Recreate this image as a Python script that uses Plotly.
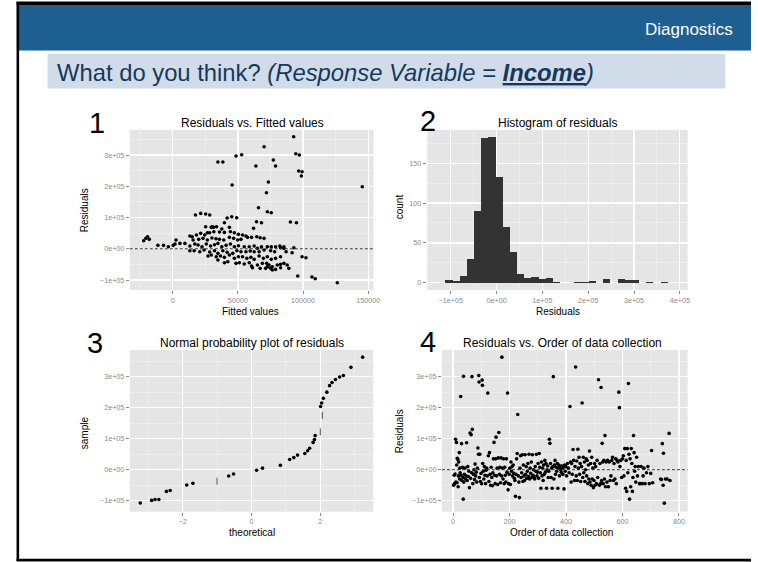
import plotly.graph_objects as go

W, H = 758, 562
FONT = "Liberation Sans, Arial, sans-serif"

# ---------------- data (residuals in thousands) ----------------
fit1 = [92.8, 70.1, 94.4, 97.1, 52.9, 48.6, 34.7, 38.5, 77.2, 78.9, 63.8, 96.6, 99.2, 98.7, 73.4, 45.6, 145.4, 71.9,
        72.6, 75.6, 65.8, 17.5, 21.5, 25.3, 28.4, 45.3, 49.1, 41.8, 39.7, 64.3, 68.1, 90.3, 94.9, 62.0, 25.3, 30.4, 33.7,
        87.0, 91.6, 99.2, 102.2, 95.9, 106.8, 109.3, 126.2, 89.1, 82.7, 85.3,
        -22.2, -20.5, -19.2, -17.9, -11.3, -7.0, -3.3, 0.5, 1.8, 2.6, 5.6, 9.4,
        13.2, 15.0, 18.2, 21.5, 24.6, 26.6, 28.4, 31.6, 35.9, 39.7, 44.3, 47.3, 50.4, 53.6, 56.2,
        29.6, 31.4, 43.5, 37.7,
        15.7, 20.0, 23.3, 26.6, 30.1, 33.2, 35.9, 39.2, 43.5, 46.8, 49.9, 52.4, 57.4, 60.5, 64.5, 67.1, 70.1,
        13.2, 17.0, 19.5, 22.5, 25.8, 29.1, 32.1, 34.7, 37.7, 41.0, 44.3, 47.3, 50.4, 54.9, 58.7, 62.5, 65.0, 68.1,
        72.6, 75.6, 78.9, 82.2, 85.3, 92.9,
        13.2, 16.5, 20.8, 24.1, 28.4, 32.1, 34.7, 38.5, 41.8, 46.1, 49.3, 52.4, 56.2, 59.5, 62.5, 66.3, 70.1, 75.1, 78.2,
        27.1, 29.6, 33.4, 36.7, 39.7, 43.5, 47.3, 50.4, 53.6, 56.9, 60.0, 62.5, 66.3, 69.6, 72.6, 75.6, 78.9, 82.7,
        34.7, 39.7, 42.3, 48.6, 51.1, 54.9, 58.7, 60.5, 65.0, 68.8, 72.1, 73.9, 76.4, 80.2, 82.7, 85.3, 87.8,
        61.2, 67.1, 71.3, 75.1, 78.9, 82.7, 72.6, 76.4]
res1 = [358.5, 326.5, 304.1, 299.8, 300.9, 296.6, 277.4, 277.4, 283.8, 264.6, 264.6, 248.6, 246.5, 232.6, 213.4, 203.8,
        198.5, 179.3, 118.5, 115.3, 131.3, 107.8, 113.2, 111.0, 107.8, 102.5, 99.3, 98.2, 83.3, 86.5, 83.3, 85.4, 83.3,
        65.2, 70.5, 70.5, 70.5,
        -9.5, -12.7, -25.5, -28.7, -87.4, -90.6, -95.9, -108.7, -62.8, 3.3, 6.5,
        25.7, 33.2, 38.5, 30.0, 10.8, 10.8, 6.5, 10.8, 15.0, 27.8, 17.1, 17.1,
        40.6, 38.5, 43.8, 49.2, 43.8, 51.3, 51.3, 54.5, 53.4, 52.3, 54.5, 51.3, 46.0, 43.8, 40.6,
        68.4, 68.4, 68.4, 63.0,
        27.8, 30.0, 33.2, 27.8, 34.2, 32.1, 30.0, 27.8, 36.4, 33.2, 27.8, 30.0, 36.4, 36.4, 38.5, 35.3, 33.2,
        8.6, 15.0, 11.8, 6.5, 15.0, 8.6, 12.9, 17.1, 6.5, 10.8, 15.0, 6.5, 9.7, 6.5, 6.5, 8.6, 1.2, 6.5,
        6.5, 6.5, 6.5, 8.6, 1.2, 3.3,
        -6.3, -6.3, -9.5, -4.2, -10.6, -6.3, -14.8, -6.3, -11.6, -14.8, -6.3, -9.5, -9.5, -7.4, -9.5, -9.5, -4.2, -6.3, -9.5,
        -23.4, -20.2, -25.5, -23.4, -27.6, -20.2, -30.8, -25.5, -25.5, -30.8, -27.6, -34.0, -23.4, -30.8, -25.5, -34.0, -30.8, -25.5,
        -36.2, -44.7, -41.5, -46.8, -44.7, -49.0, -44.7, -55.4, -52.2, -46.8, -46.8, -52.2, -57.5, -52.2, -50.0, -46.8, -52.2,
        -60.7, -62.8, -62.8, -62.8, -66.1, -60.7, -57.5, -68.2]

bin_centers = [-104.1, -88.4, -72.7, -57.1, -41.4, -25.8, -10.1, 5.6, 21.2, 36.9, 52.5, 68.2, 83.9, 99.5, 115.2,
               130.8, 146.5, 162.2, 177.8, 193.5, 209.1, 224.8, 240.4, 256.1, 271.8, 287.4, 303.1, 318.7, 334.4,
               350.1, 365.7]
bin_counts = [3, 2, 8, 30, 90, 182, 183, 133, 70, 39, 11, 6, 7, 5, 6, 1, 0, 0, 1, 1, 2, 0, 4, 0, 4, 3, 3, 0, 1, 0, 1]
bin_width = 15.66

theo3 = [-3.23, -2.90, -2.80, -2.69, -2.47, -2.36, -1.88, -1.70, -0.66, -0.52, 0.15, 0.32, 0.84, 1.11, 1.23, 1.34,
         1.55, 1.63, 1.69, 1.79, 1.83, 1.85, 2.01, 2.04, 2.09, 2.19, 2.27, 2.34, 2.44, 2.56, 2.67, 2.89, 3.23]
samp3 = [-107.6, -99, -96, -96, -70, -67, -49.6, -44, -20.5, -14, -2, 5, 14, 33, 39, 47, 52, 61, 69, 88, 97, 110,
         204, 215, 230, 250, 271, 281, 291, 299, 304, 330, 363]
theo3_overlap = [-1.0, 2.0, 2.06]
samp3_overlap = [-37, 122, 175]

order4 = [2, 4, 5, 7, 9, 10, 12, 13, 14, 15, 17, 18, 19, 20, 22, 23, 24, 25, 27, 28, 30, 31, 33, 35, 36, 37, 38, 40, 42,
          44, 46, 48, 50, 52, 54, 56, 58, 60, 62, 64, 66, 67, 68, 70, 72, 74, 76, 78, 80, 82, 84, 86, 88, 90, 91, 92, 93,
          95, 97, 99, 101, 103, 104, 105, 107, 109, 111, 113, 115, 117, 119, 121, 123, 125, 127, 129, 131, 133, 135, 137,
          139, 141, 143, 145, 147, 149, 151, 152, 154, 156, 158, 160, 162, 164, 166, 168, 170, 172, 173, 175, 177, 179,
          181, 183, 185, 187, 189, 191, 193, 195, 197, 199, 201, 203, 205, 207, 209, 211, 213, 215, 217, 219, 221, 223,
          225, 227, 229, 231, 233, 235, 237, 239, 241, 243, 245, 247, 249, 251, 253, 255, 257, 259, 261, 263, 265, 267,
          269, 271, 273, 275, 277, 279, 281, 283, 285, 287, 289, 291, 293, 295, 297, 299, 301, 303, 305, 307, 309, 311,
          313, 315, 317, 319, 321, 323, 325, 327, 329, 331, 333, 335, 337, 339, 341, 343, 345, 347, 349, 351, 353, 355,
          357, 359, 361, 363, 365, 367, 369, 371, 373, 375, 377, 379, 381, 383, 385, 387, 389, 391, 393, 395, 397, 399,
          402, 405, 408, 411, 414, 416, 418, 420, 422, 425, 427, 430, 432, 434, 436, 438, 440, 442, 444, 446, 448, 450,
          452, 455, 457, 459, 461, 463, 465, 467, 469, 471, 473, 475, 477, 479, 481, 483, 485, 487, 489, 491, 493, 495,
          497, 499, 501, 503, 505, 508, 510, 512, 515, 518, 520, 522, 524, 526, 528, 530, 532, 534, 536, 538, 540, 542,
          545, 547, 550, 553, 556, 559, 562, 565, 568, 570, 573, 576, 578, 581, 584, 587, 589, 591, 594, 597, 600, 603,
          605, 608, 611, 613, 615, 617, 619, 621, 623, 625, 627, 629, 631, 633, 635, 637, 639, 641, 643, 645, 647, 650,
          653, 656, 660, 663, 666, 670, 673, 676, 680, 685, 690, 695, 700, 703, 707, 735, 738, 741, 744, 745, 748, 752,
          758, 765, 768]
res4 = [-50, -18, -45, -14, 98, -40, 88, 15, -42, 37, 33, -55, -20, 25, 55, -30, 5, -10, 236, -18, 84, -35, 8, -25, -95,
        301, -40, -15, 5, -30, -20, 87, -35, 10, -22, -5, -58, 118, -28, 113, -10, 300, 130, -45, -15, 0, -32, 18, -20,
        -8, -40, 5, 70, 50, 304, 283, -25, 50, -38, -12, -45, 289, 272, 20, -5, -30, 10, -18, -45, -2, 5, -20, 247, 45,
        -38, 55, -15, -50, 8, -25, -52, -10, 35, 88, -18, -45, 35, 105, -20, 5, -48, 38, 120, -15, 8, -42, 38, -20, 363,
        5, -30, 35, -45, 8, -18, -40, 35, -8, 247, -65, -45, -15, 5, -48, 25, -5, 10, -20, 15, -12, -28, -35, -86, -15,
        35, 52, 178, -20, -40, -90, 5, 45, -25, -10, 48, -38, 15, -20, -35, 48, -15, 10, -28, -5, 20, -22, 50, -30, 5,
        -12, 25, -25, 48, -18, 0, -25, -30, 10, -5, 50, -20, -8, 20, -28, 52, 8, -10, -60, 25, -20, 5, -35, 15, -15, 30,
        -8, 20, -60, 0, 12, -25, -5, 98, 85, 20, -25, 5, -60, 10, 300, -30, 15, 30, -15, 8, -5, 20, -60, 5, 15, -20, 10,
        0, -8, 12, 5, -15, 8, -62, 15, -5, 10,
        -20, 20, 5, -10, 204, 25, -40, 20, -15, 65, 30, -35, 10, 331, -20, 28, -35, 66, 5, 40, -15, 20, -38, 10, 215, -25,
        40, -10, 25, -38, 0, 35, -20, 30, -45, 15, -30, 60, -40, 20, -50, 40, -30, 5, -58, -35, 20, -50, 10, -45, 30, -25,
        290, -50, 20, -45, 265, -35, 85, 25, -45, 30, -30, 110, -55, 25, -40, 30, -55, 25, -35, -20, 30, 40, -35, 20, -30,
        35, -45, 30, 25, 250, 200, 10, 30, -25, 35, 45, -20, 68, -60, 30, -70, 68, -10, 278, 50, -95, 35, -55, 68, 20, -70,
        -25, 110, 55, -5, 10, -40, 40, -20, 10, -45, -45, 10, -45, -20, 5, -45, -10, 10, -45, -12, 62, -42, -30, -32, 84,
        -50, 53, -108, -30, -30, 117, -35]

# ---------------- helpers ----------------
def px(x):
    return x / W


def py(y):
    return 1 - y / H


GRID = dict(showgrid=True, gridcolor="white", gridwidth=1.3, zeroline=False, showline=False,
            ticks="outside", ticklen=3, tickwidth=1, tickcolor="#8a8a8a",
            tickfont=dict(family=FONT, size=7.2, color="#8a8a8a"), fixedrange=True)


def axis(domain, rng, tickvals, ticktext, minorvals, anchor):
    d = dict(GRID)
    d.update(domain=domain, range=rng, tickmode="array", tickvals=tickvals, ticktext=ticktext, anchor=anchor,
             minor=dict(tickmode="array", tickvals=minorvals, showgrid=True, gridcolor="#F2F2F2", gridwidth=0.7,
                        ticks=""))
    return d


ylab = ["\u22121e+05", "0e+00", "1e+05", "2e+05", "3e+05"]
yvals = [-100, 0, 100, 200, 300]
yminor = [-50, 50, 150, 250, 350]

fig = go.Figure()
mk = dict(color="black", size=3.6)
fig.add_trace(go.Scatter(x=fit1, y=res1, mode="markers", marker=mk, xaxis="x", yaxis="y", hoverinfo="skip"))
fig.add_trace(go.Bar(x=bin_centers, y=bin_counts, width=bin_width, marker=dict(color="#333333", line=dict(width=0)),
                     xaxis="x2", yaxis="y2", hoverinfo="skip"))
fig.add_trace(go.Scatter(x=theo3, y=samp3, mode="markers", marker=mk, xaxis="x3", yaxis="y3", hoverinfo="skip"))
fig.add_trace(go.Scatter(x=theo3_overlap, y=samp3_overlap, mode="markers",
                         marker=dict(color="#555555", size=5, symbol="line-ns", line=dict(width=1, color="#555555")),
                         xaxis="x3", yaxis="y3", hoverinfo="skip"))
fig.add_trace(go.Scatter(x=order4, y=res4, mode="markers", marker=mk, xaxis="x4", yaxis="y4", hoverinfo="skip"))

top_dom = [py(290), py(130)]
bot_dom = [py(511.7), py(350)]

layout = dict(
    width=W, height=H, margin=dict(l=0, r=0, t=0, b=0), showlegend=False,
    paper_bgcolor="white", plot_bgcolor="#E5E5E5", bargap=0,
    xaxis=axis([px(131), px(377)], [-32.85, 154], [0, 50, 100, 150], ["0", "50000", "100000", "150000"],
               [-25, 25, 75, 125], "y"),
    yaxis=axis(top_dom, [-132, 380], yvals, ylab, yminor, "x"),
    xaxis2=axis([px(430.7), px(694)], [-152.6, 417], [-100, 0, 100, 200, 300, 400],
                ["\u22121e+05", "0e+00", "1e+05", "2e+05", "3e+05", "4e+05"], [-150, -50, 50, 150, 250, 350],
                "y2"),
    yaxis2=axis(top_dom, [-9.2, 191.8], [0, 50, 100, 150], ["0", "50", "100", "150"], [25, 75, 125, 175], "x2"),
    xaxis3=axis([px(131), px(376.7)], [-3.534, 3.537], [-2, 0, 2], ["\u22122", "0", "2"], [-3, -1, 1, 3], "y3"),
    yaxis3=axis(bot_dom, [-135.5, 386], yvals, ylab, yminor, "x3"),
    xaxis4=axis([px(446), px(694)], [-39.6, 830.5], [0, 200, 400, 600, 800], ["0", "200", "400", "600", "800"],
                [100, 300, 500, 700], "y4"),
    yaxis4=axis(bot_dom, [-135.5, 386], yvals, ylab, yminor, "x4"),
)

shapes = [
    dict(type="rect", xref="paper", yref="paper", x0=px(17), x1=1, y0=py(50.5), y1=py(4), fillcolor="#1D5F90",
         line=dict(width=0), layer="below"),
    dict(type="rect", xref="paper", yref="paper", x0=px(16.7), x1=px(19.3), y0=py(561), y1=py(2), fillcolor="black",
         line=dict(width=0)),
    dict(type="rect", xref="paper", yref="paper", x0=px(16.7), x1=1, y0=py(5), y1=py(1.5), fillcolor="black",
         line=dict(width=0)),
    dict(type="rect", xref="paper", yref="paper", x0=px(16.7), x1=1, y0=py(561.5), y1=py(558.8), fillcolor="black",
         line=dict(width=0)),
    dict(type="rect", xref="paper", yref="paper", x0=px(48), x1=px(732), y0=py(88.5), y1=py(54), fillcolor="#D0DDE8",
         line=dict(width=0), layer="below"),
    dict(type="line", xref="x domain", yref="y", x0=0, x1=1, y0=0, y1=0,
         line=dict(color="#333333", width=1, dash="3px,2px")),
    dict(type="line", xref="x4 domain", yref="y4", x0=0, x1=1, y0=0, y1=0,
         line=dict(color="#333333", width=1, dash="3px,2px")),
]


def ann(text, x, y, size, color="black", angle=0, xanchor="center"):
    return dict(text=text, x=px(x), y=py(y), xref="paper", yref="paper", showarrow=False, xanchor=xanchor,
                yanchor="middle", textangle=angle, font=dict(family=FONT, size=size, color=color))


annotations = [
    ann("Diagnostics", 742, 29.5, 17, "white", xanchor="right"),
    ann("What do you think? <i>(Response Variable = </i><b><i><span style='text-decoration:underline'>Income</span>"
        "</i></b><i>)</i>", 56, 72, 23.8, "#17375E", xanchor="left"),
    ann("1", 98, 123, 29), ann("2", 432, 121, 29), ann("3", 96, 343, 29), ann("4", 432, 342, 29),
    ann("Residuals vs. Fitted values", 255, 122.5, 12),
    ann("Histogram of residuals", 563, 122.5, 12),
    ann("Normal probability plot of residuals", 254, 342.5, 12),
    ann("Residuals vs. Order of data collection", 568, 342.5, 12),
    ann("Fitted values", 253, 311, 10), ann("Residuals", 85, 210, 10, angle=-90),
    ann("Residuals", 563, 311, 10), ann("count", 403, 207, 10, angle=-90),
    ann("theoretical", 254, 532.5, 10), ann("sample", 85, 433, 10, angle=-90),
    ann("Order of data collection", 567, 532.5, 10), ann("Residuals", 403, 431, 10, angle=-90),
]

layout["shapes"] = shapes
layout["annotations"] = annotations
fig.update_layout(**layout)
fig.write_html("out.html", config={"displayModeBar": False, "staticPlot": True},
               post_script="document.body.style.margin='0';document.body.style.padding='0';"
                           "document.body.style.overflow='hidden';")
